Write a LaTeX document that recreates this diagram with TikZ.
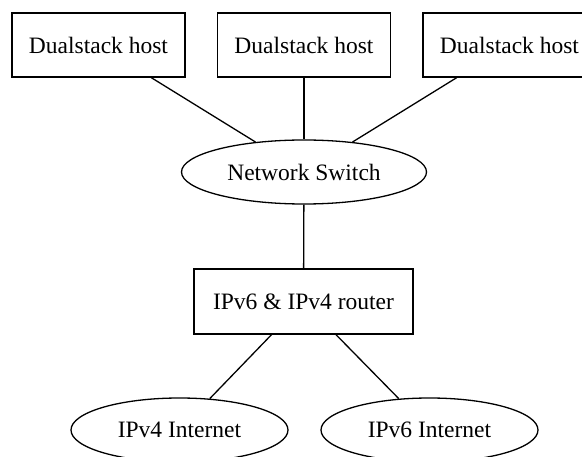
\documentclass[tikz,border=0pt]{standalone}
\usepackage{fontspec}
\setmainfont{Liberation Serif}
\usetikzlibrary{shapes.geometric}
\begin{document}
\begin{tikzpicture}[x=1pt,y=-1pt,
  every node/.style={font=\fontsize{23.5}{28}\selectfont, inner sep=0pt},
  boxnode/.style={draw, line width=1.3pt, rectangle, minimum width=173pt, minimum height=64pt},
  ellnode/.style={draw, line width=1.3pt, ellipse, minimum height=64pt},
  link/.style={line width=1.3pt}]
\useasboundingbox (0,0) rectangle (582,457);
\clip (0,0) rectangle (582,457);
\node[boxnode] (h1) at (98.5,45) {Dualstack host};
\node[boxnode] (h2) at (304,45) {Dualstack host};
\node[boxnode] (h3) at (509.5,45) {Dualstack host};
\node[ellnode, minimum width=245pt] (sw) at (304,172) {Network Switch};
\node[boxnode, minimum width=219pt, minimum height=65pt] (rt) at (303.5,301.5) {IPv6 \& IPv4 router};
\node[ellnode, minimum width=217pt] (v4) at (179.5,430) {IPv4 Internet};
\node[ellnode, minimum width=217pt] (v6) at (429.5,430) {IPv6 Internet};
\draw[link] (h1) -- (sw);
\draw[link] (h2) -- (sw);
\draw[link] (h3) -- (sw);
\draw[link] (sw) -- (rt);
\draw[link] (rt) -- (v4);
\draw[link] (rt) -- (v6);
\end{tikzpicture}
\end{document}
